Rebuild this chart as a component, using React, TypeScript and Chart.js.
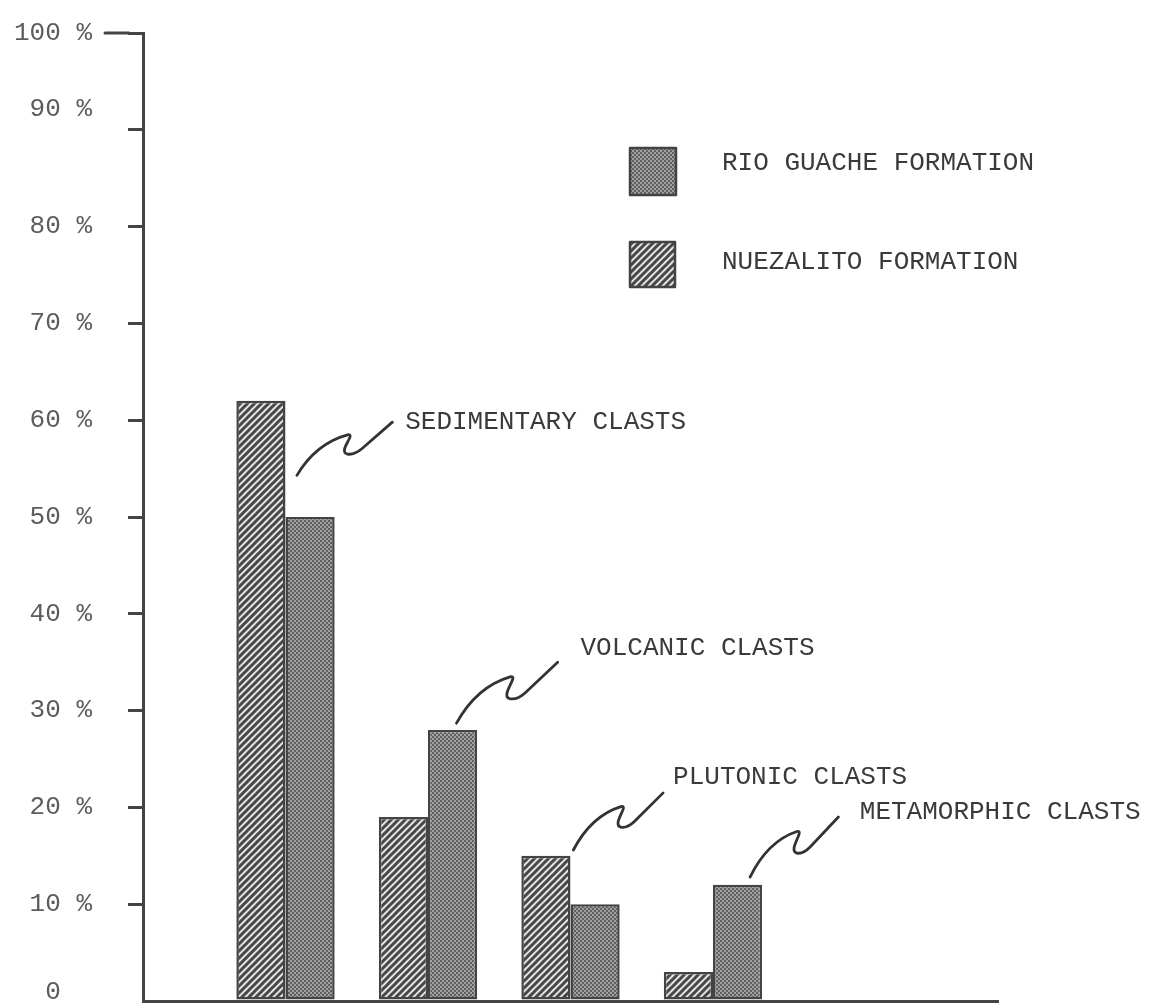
import React, { useEffect, useRef } from 'react';
import { Chart, registerables } from 'chart.js';

Chart.register(...registerables);

// ---- data ----
const categories = ['', 'Sedimentary', 'Volcanic', 'Plutonic', 'Metamorphic', '', ''];
const nuezalitoValues = [null, 62, 19, 15, 3, null, null];
const rioGuacheValues = [null, 50, 28, 10, 12, null, null];
const seriesNames = ['RIO GUACHE FORMATION', 'NUEZALITO FORMATION'];
const yMin = 0;
const yMax = 100;
const yStep = 10;

// callouts (data units: [category index, percent])
const calloutLabels = ['SEDIMENTARY CLASTS', 'VOLCANIC CLASTS', 'PLUTONIC CLASTS', 'METAMORPHIC CLASTS'];
const calloutStart = [[1.08, 54.3], [2.2, 28.7], [3.02, 15.6], [4.26, 12.8]];
const calloutEnd = [[1.75, 59.8], [2.91, 35.0], [3.65, 21.5], [4.88, 19.0]];
const calloutText = [[1.84, 59.8], [3.07, 36.5], [3.72, 23.1], [5.03, 19.5]];

const FONT_FAMILY = '"Liberation Mono", "Courier New", monospace';
const INK = '#3a3a3a';

function makeHatch(): CanvasPattern | string {
  const s = 7;
  const c = document.createElement('canvas');
  c.width = s;
  c.height = s;
  const g = c.getContext('2d');
  if (!g) return '#999';
  g.fillStyle = '#e2e2e2';
  g.fillRect(0, 0, s, s);
  g.strokeStyle = '#474747';
  g.lineWidth = 3;
  g.beginPath();
  g.moveTo(-1, s + 1);
  g.lineTo(s + 1, -1);
  g.moveTo(-s / 2 - 1, s / 2 + 1);
  g.lineTo(s / 2 + 1, -s / 2 - 1);
  g.moveTo(s / 2 - 1, s * 1.5 + 1);
  g.lineTo(s * 1.5 + 1, s / 2 - 1);
  g.stroke();
  const p = g.createPattern(c, 'repeat');
  return p || '#999';
}

function makeStipple(): CanvasPattern | string {
  const s = 4;
  const c = document.createElement('canvas');
  c.width = s;
  c.height = s;
  const g = c.getContext('2d');
  if (!g) return '#888';
  g.fillStyle = '#a0a0a0';
  g.fillRect(0, 0, s, s);
  g.fillStyle = '#606060';
  g.fillRect(0, 0, 2, 2);
  g.fillRect(2, 2, 2, 2);
  const p = g.createPattern(c, 'repeat');
  return p || '#888';
}

function drawSquiggle(ctx: CanvasRenderingContext2D, sx: number, sy: number, ex: number, ey: number) {
  const dx = ex - sx;
  const dy = ey - sy;
  const pt = (u: number, v: number): [number, number] => [sx + u * dx, sy + v * dy];
  const c1 = pt(0.2, 0.6);
  const peak = pt(0.53, 0.76);
  const c2 = pt(0.63, 0.8);
  const c3 = pt(0.42, 0.44);
  const hook = pt(0.53, 0.4);
  const c4 = pt(0.6, 0.38);
  const turn = pt(0.68, 0.5);
  ctx.beginPath();
  ctx.moveTo(sx, sy);
  ctx.quadraticCurveTo(c1[0], c1[1], peak[0], peak[1]);
  ctx.bezierCurveTo(c2[0], c2[1], c3[0], c3[1], hook[0], hook[1]);
  ctx.quadraticCurveTo(c4[0], c4[1], turn[0], turn[1]);
  ctx.lineTo(ex, ey);
  ctx.stroke();
}

export default function App() {
  const ref = useRef<HTMLCanvasElement | null>(null);

  useEffect(() => {
    const canvas = ref.current;
    if (!canvas) return;
    const hatch = makeHatch();
    const stipple = makeStipple();

    const decorPlugin = {
      id: 'decor',
      afterDraw(chart: any) {
        const ctx: CanvasRenderingContext2D = chart.ctx;
        const xs = chart.scales.x;
        const ys = chart.scales.y;
        const area = chart.chartArea;
        ctx.save();
        // longer top tick
        ctx.strokeStyle = '#444';
        ctx.lineWidth = 3;
        ctx.lineCap = 'round';
        const y100 = ys.getPixelForValue(yMax);
        ctx.beginPath();
        ctx.moveTo(area.left - 38, y100);
        ctx.lineTo(area.left - 14, y100);
        ctx.stroke();

        // callouts
        ctx.strokeStyle = '#333';
        ctx.lineWidth = 2.8;
        ctx.lineJoin = 'round';
        ctx.font = '26px ' + FONT_FAMILY;
        ctx.fillStyle = INK;
        ctx.textBaseline = 'middle';
        ctx.textAlign = 'left';
        calloutLabels.forEach((label, i) => {
          const sx = xs.getPixelForValue(calloutStart[i][0]);
          const sy = ys.getPixelForValue(calloutStart[i][1]);
          const ex = xs.getPixelForValue(calloutEnd[i][0]);
          const ey = ys.getPixelForValue(calloutEnd[i][1]);
          drawSquiggle(ctx, sx, sy, ex, ey);
          const tx = xs.getPixelForValue(calloutText[i][0]);
          const ty = ys.getPixelForValue(calloutText[i][1]);
          ctx.fillText(label, tx, ty);
        });

        // legend
        const boxes = [
          { fill: stipple, x: 630, y: 148, w: 46, h: 47, tx: 722, ty: 163, text: seriesNames[0] },
          { fill: hatch, x: 630, y: 242, w: 45, h: 45, tx: 722, ty: 262, text: seriesNames[1] },
        ];
        boxes.forEach((b) => {
          ctx.fillStyle = b.fill as any;
          ctx.fillRect(b.x, b.y, b.w, b.h);
          ctx.strokeStyle = '#444';
          ctx.lineWidth = 2.5;
          ctx.strokeRect(b.x, b.y, b.w, b.h);
          ctx.fillStyle = INK;
          ctx.fillText(b.text, b.tx, b.ty);
        });
        ctx.restore();
      },
    };

    const chart = new Chart(canvas, {
      type: 'bar',
      data: {
        labels: categories,
        datasets: [
          {
            label: seriesNames[1],
            data: nuezalitoValues as any,
            backgroundColor: hatch as any,
            borderColor: '#444',
            borderWidth: 2.5,
            borderSkipped: false,
          },
          {
            label: seriesNames[0],
            data: rioGuacheValues as any,
            backgroundColor: stipple as any,
            borderColor: '#444',
            borderWidth: 2.5,
            borderSkipped: false,
          },
        ],
      },
      options: {
        responsive: false,
        animation: false,
        events: [],
        layout: { padding: { top: 33, right: 154, left: 0, bottom: 0 } },
        datasets: { bar: { categoryPercentage: 0.69, barPercentage: 1 } } as any,
        plugins: {
          legend: { display: false },
          tooltip: { enabled: false },
        },
        scales: {
          x: {
            type: 'category',
            offset: false,
            grid: { display: false },
            ticks: { display: false },
            border: { display: true, color: '#444', width: 3 },
            afterFit: (s: any) => {
              s.height = 4;
            },
          },
          y: {
            min: yMin,
            max: yMax,
            ticks: {
              stepSize: yStep,
              padding: 36,
              color: '#5c5c5c',
              font: (c: any) => {
                const v = c.tick ? c.tick.value : -1;
                if (v === 0) return { family: FONT_FAMILY, size: 26, lineHeight: 0.7 };
                if (v === 90) return { family: FONT_FAMILY, size: 26, lineHeight: 1.6 };
                return { family: FONT_FAMILY, size: 26, lineHeight: 1.2 };
              },
              callback: (value: any) => {
                const v = Number(value);
                if (v === 0) return ['0  ', ''];
                if (v === 90) return [v + ' %', ''];
                return v + ' %';
              },
            },
            grid: {
              drawOnChartArea: false,
              drawTicks: true,
              tickLength: 15,
              lineWidth: 3,
              color: (c: any) => (c.tick && c.tick.value === 0 ? 'rgba(0,0,0,0)' : '#444'),
            },
            border: { display: true, color: '#444', width: 3 },
            afterFit: (s: any) => {
              s.width = 143;
              s.paddingTop = 0;
              s.paddingBottom = 0;
            },
          },
        },
      },
      plugins: [decorPlugin],
    });

    return () => {
      chart.destroy();
    };
  }, []);

  return (
    <div style={{ position: 'absolute', left: 0, top: 0, width: 1152, height: 1005, background: '#fff' }}>
      <canvas ref={ref} width={1152} height={1005} style={{ display: 'block', width: 1152, height: 1005 }} />
    </div>
  );
}
